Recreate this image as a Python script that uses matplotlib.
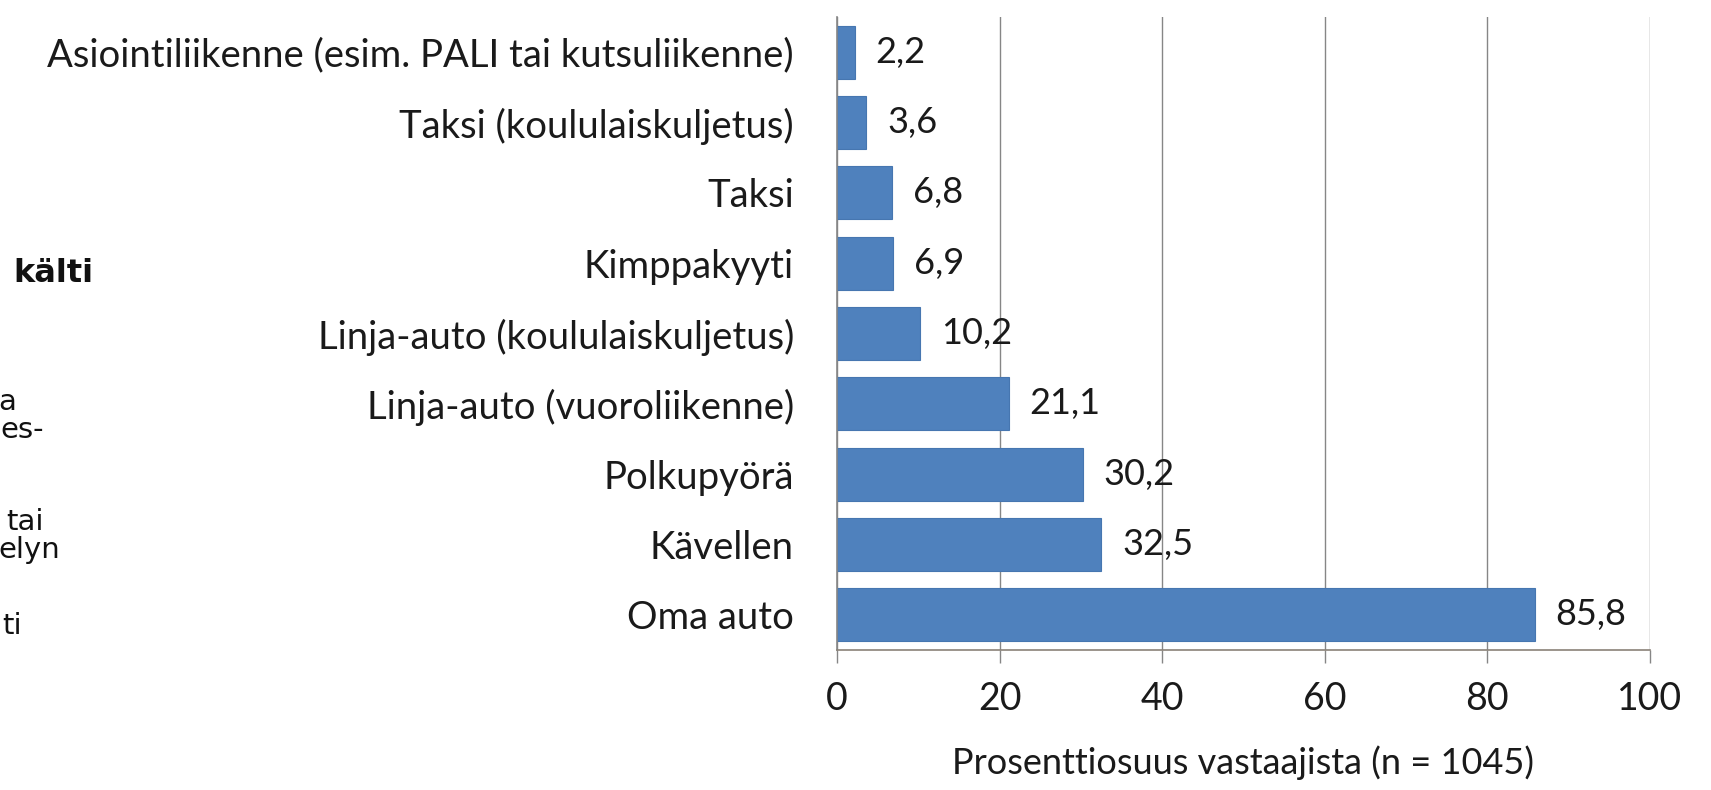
import matplotlib
matplotlib.use("Agg")
import matplotlib.pyplot as plt

categories = [
    "Oma auto",
    "Kävellen",
    "Polkupyörä",
    "Linja-auto (vuoroliikenne)",
    "Linja-auto (koululaiskuljetus)",
    "Kimppakyyti",
    "Taksi",
    "Taksi (koululaiskuljetus)",
    "Asiointiliikenne (esim. PALI tai kutsuliikenne)",
]
values = [85.8, 32.5, 30.2, 21.1, 10.2, 6.9, 6.8, 3.6, 2.2]
value_labels = ["85,8", "32,5", "30,2", "21,1", "10,2", "6,9", "6,8", "3,6", "2,2"]
xticks = [0, 20, 40, 60, 80, 100]
xlabel = "Prosenttiosuus vastaajista (n = 1045)"

side_texts = [("kälti", True, 93, 273), ("a", False, 16, 402), ("es-", False, 44, 430),
              ("tai", False, 44, 522), ("elyn", False, 60, 550), ("ti", False, 22, 626)]

W, H = 1711, 790
fig = plt.figure(figsize=(W / 100, H / 100), dpi=100)
ax_bottom, ax_top = 650, 17
ax = fig.add_axes([837 / W, 1 - ax_bottom / H, (1650 - 837) / W, (ax_bottom - ax_top) / H])

FONT = "Lato"
TXT = "#1a1a1a"

ypos = list(range(len(categories)))
ax.barh(ypos, values, height=0.75, color="#4F81BD", edgecolor="#4676b0", linewidth=0.8, zorder=3)
ax.set_ylim(-0.5, len(categories) - 0.5)
ax.set_xlim(0, 100)
ax.set_yticks(ypos)
ax.set_yticklabels(categories, fontsize=27.5, family=FONT, color=TXT)
ax.set_xticks(xticks)
ax.set_xticklabels([str(t) for t in xticks], fontsize=27, family=FONT, color=TXT)
ax.tick_params(axis="y", length=0, pad=31)
ax.tick_params(axis="x", length=9.4, width=1, color="#868686", pad=13)
ax.grid(axis="x", color="#868686", linewidth=1, zorder=0)
for s in ["top", "right"]:
    ax.spines[s].set_visible(False)
ax.spines["left"].set_color("#868686")
ax.spines["bottom"].set_color("#8a8278")
for s in ["left", "bottom"]:
    ax.spines[s].set_linewidth(1.2)
    ax.spines[s].set_zorder(4)

for y, v, lab in zip(ypos, values, value_labels):
    ax.annotate(lab, (v, y), xytext=(15, 0), textcoords="offset points",
                va="center", ha="left", fontsize=26, family=FONT, color=TXT)

ax.set_xlabel(xlabel, fontsize=26, family=FONT, color=TXT, labelpad=20)

for txt, bold, xr, yc in side_texts:
    fig.text(xr / W, 1 - yc / H, txt, ha="right", va="center",
             fontsize=23 if bold else 21,
             family="DejaVu Sans", fontweight="bold" if bold else "normal", color="#111111")

fig.savefig("out.png", dpi=100)
